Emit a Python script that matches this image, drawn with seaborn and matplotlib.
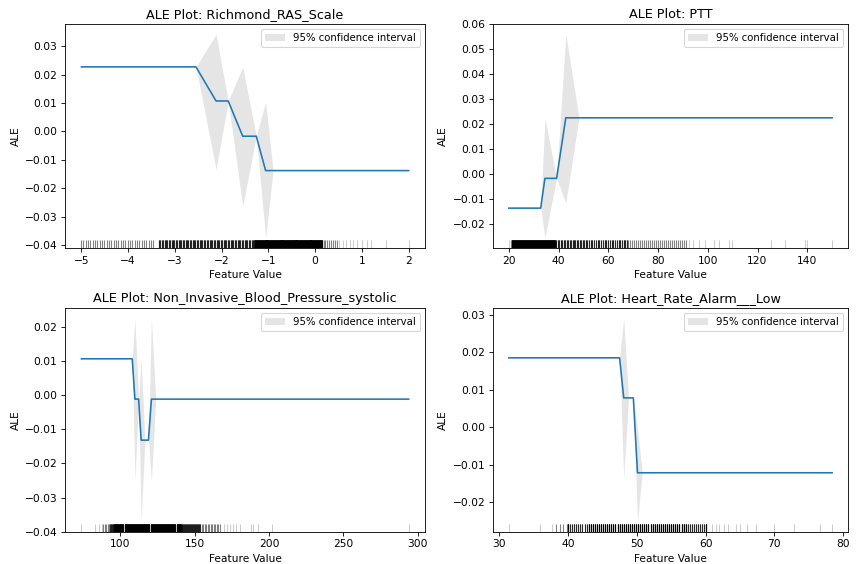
import numpy as np
import pandas as pd
import matplotlib
matplotlib.use("Agg")
import matplotlib.pyplot as plt
import seaborn as sns

# ---------------- data ----------------
features = ["Richmond_RAS_Scale", "PTT",
            "Non_Invasive_Blood_Pressure_systolic", "Heart_Rate_Alarm___Low"]

# Richmond_RAS_Scale
ras_x = [-5.0, -2.55, -2.12, -1.86, -1.55, -1.26, -1.06, -0.90, 2.0]
ras_ale = [0.0227, 0.0227, 0.0107, 0.0107, -0.0017, -0.0017, -0.0138, -0.0138, -0.0138]
ras_upper = [0.0227, 0.0227, 0.0342, 0.0107, 0.0227, -0.0017, 0.0104, -0.0138, -0.0138]
ras_lower = [0.0227, 0.0227, -0.0134, 0.0107, -0.0264, -0.0017, -0.0375, -0.0138, -0.0138]

# PTT
ptt_x = [20.0, 32.8, 34.5, 39.2, 42.9, 48.2, 150.0]
ptt_ale = [-0.0135, -0.0135, -0.0016, -0.0016, 0.0226, 0.0226, 0.0226]
ptt_upper = [-0.0135, -0.0135, 0.0225, -0.0016, 0.0560, 0.0226, 0.0226]
ptt_lower = [-0.0135, -0.0135, -0.0254, -0.0016, -0.0115, 0.0226, 0.0226]

# Non_Invasive_Blood_Pressure_systolic
nbp_x = [73.8, 108.0, 109.8, 112.3, 114.0, 116.5, 118.9, 120.9, 123.8, 294.0]
nbp_ale = [0.0106, 0.0106, -0.0012, -0.0012, -0.0132, -0.0132, -0.0132, -0.0012, -0.0012, -0.0012]
nbp_upper = [0.0106, 0.0106, 0.0222, -0.0012, 0.0106, -0.0132, -0.0132, 0.0225, -0.0012, -0.0012]
nbp_lower = [0.0106, 0.0106, -0.0250, -0.0012, -0.0371, -0.0132, -0.0132, -0.0253, -0.0012, -0.0012]

# Heart_Rate_Alarm___Low
hr_x = [31.4, 47.5, 48.1, 48.8, 49.5, 50.1, 50.8, 78.4]
hr_ale = [0.0185, 0.0185, 0.0078, 0.0078, 0.0078, -0.0122, -0.0122, -0.0122]
hr_upper = [0.0185, 0.0185, 0.0291, 0.0078, 0.0078, -0.0005, -0.0122, -0.0122]
hr_lower = [0.0185, 0.0185, -0.0138, 0.0078, 0.0078, -0.0253, -0.0122, -0.0122]

# rug (observed feature values), grouped by how often each value occurs
rug_repeats = [1, 3, 8, 16]

ras_rug = [
    [0.52, 0.59, 0.66, 0.74, 0.80, 0.90, 1.01, 1.10, 1.19, 1.51, 2.0],
    [-5.00, -4.96, -4.91, -4.86, -4.81, -4.76, -4.71, -4.66, -4.61, -4.56, -4.51, -4.46,
     -4.41, -4.36, -4.31, -4.26, -4.21, -4.16, -4.11, -4.06, -4.01, -3.96, -3.91, -3.86,
     -3.81, -3.76, -3.71, -3.66, -3.61, -3.56, -3.51, -3.46,
     0.18, 0.22, 0.26, 0.30, 0.34, 0.38, 0.42, 0.46],
    [-3.34, -3.31, -3.28, -3.25, -3.22, -3.19, -3.16, -3.13, -3.10, -3.07, -3.04, -3.01,
     -2.98, -2.95, -2.92, -2.89, -2.86, -2.83, -2.80, -2.77, -2.74, -2.71, -2.68, -2.65,
     -2.62, -2.59, -2.56, -2.53, -2.50, -2.47, -2.44, -2.41, -2.38, -2.35, -2.32, -2.29,
     -2.26, -2.23, -2.20, -2.17, -2.14, -2.11, -2.08, -2.05, -2.02, -1.99, -1.96, -1.93,
     -1.90, -1.87, -1.84, -1.81, -1.78, -1.75, -1.72, -1.69, -1.66, -1.63, -1.60, -1.57,
     -1.54, -1.51, -1.48, -1.45, -1.42, -1.39, -1.36, -1.33, -1.30],
    [-1.28, -1.26, -1.24, -1.22, -1.20, -1.18, -1.16, -1.14, -1.12, -1.10, -1.08, -1.06,
     -1.04, -1.02, -1.00, -0.98, -0.96, -0.94, -0.92, -0.90, -0.88, -0.86, -0.84, -0.82,
     -0.80, -0.78, -0.76, -0.74, -0.72, -0.70, -0.68, -0.66, -0.64, -0.62, -0.60, -0.58,
     -0.56, -0.54, -0.52, -0.50, -0.48, -0.46, -0.44, -0.42, -0.40, -0.38, -0.36, -0.34,
     -0.32, -0.30, -0.28, -0.26, -0.24, -0.22, -0.20, -0.18, -0.16, -0.14, -0.12, -0.10,
     -0.08, -0.06, -0.04, -0.02, 0.00, 0.02, 0.04, 0.06, 0.08, 0.10, 0.12, 0.14],
]

ptt_rug = [
    [20.0, 92.5, 94.0, 96.6, 99.0, 102.5, 104.5, 108.4, 109.8, 125.6, 131.0, 138.9,
     140.0, 150.0],
    [20.8, 68.0, 68.8, 69.6, 70.4, 71.2, 72.0, 72.8, 73.6, 74.4, 75.2, 76.0, 76.8, 77.6,
     78.4, 79.2, 80.0, 80.8, 81.6, 82.4, 83.2, 84.0, 84.8, 85.6, 86.4, 87.2, 88.0, 88.8,
     89.6, 90.4, 91.2],
    [39.0, 39.6, 40.2, 40.8, 41.4, 42.0, 42.6, 43.2, 43.8, 44.4, 45.0, 45.6, 46.2, 46.8,
     47.4, 48.0, 48.6, 49.2, 49.8, 50.4, 51.0, 51.6, 52.2, 52.9, 53.6, 54.3, 55.0, 55.7,
     56.4, 57.1, 57.8, 58.5, 59.2, 59.9, 60.6, 61.3, 62.0, 62.7, 63.4, 64.1, 64.8, 65.5,
     66.2, 66.9, 67.6],
    [21.4, 21.8, 22.2, 22.6, 23.0, 23.4, 23.8, 24.2, 24.6, 25.0, 25.4, 25.8, 26.2, 26.6,
     27.0, 27.4, 27.8, 28.2, 28.6, 29.0, 29.4, 29.8, 30.2, 30.6, 31.0, 31.4, 31.8, 32.2,
     32.6, 33.0, 33.4, 33.8, 34.2, 34.6, 35.0, 35.4, 35.8, 36.2, 36.6, 37.0, 37.4, 37.8,
     38.2, 38.6],
]

nbp_rug = [
    [73.8, 82.7, 85.5, 87.5, 169.5, 171.5, 173.5, 175.5, 177.5, 180.5, 188.0, 189.5,
     192.5, 202.0, 294.0],
    [88.5, 89.5, 90.5, 91.5, 92.3, 154.8, 155.8, 156.8, 157.8, 158.8, 159.8, 160.8,
     161.8, 162.8, 163.8, 164.8, 165.8, 166.8],
    [93.0, 93.6, 94.2, 94.8, 95.4, 96.0, 141.3, 142.0, 142.7, 143.4, 144.1, 144.8, 145.5,
     146.2, 146.9, 147.6, 148.3, 149.0, 149.7, 150.4, 151.1, 151.8, 152.5, 153.2, 153.9],
    [96.5, 97.2, 97.9, 98.6, 99.3, 100.0, 100.7, 101.4, 102.1, 102.8, 103.5, 104.2,
     104.9, 105.6, 106.3, 107.0, 107.7, 108.4, 109.1, 109.8, 110.5, 111.2, 111.9, 112.6,
     113.3, 114.0, 114.7, 115.4, 116.1, 116.8, 117.5, 118.2, 118.9, 119.6, 120.3, 121.0,
     121.7, 122.4, 123.1, 123.8, 124.5, 125.2, 125.9, 126.6, 127.3, 128.0, 128.7, 129.4,
     130.1, 130.8, 131.5, 132.2, 132.9, 133.6, 134.3, 135.0, 135.7, 136.4, 137.1, 137.8,
     138.5, 139.2, 139.9, 140.6],
]

hr_rug = [
    [31.4, 36.0, 37.7, 61.0, 61.5, 62.0, 62.7, 63.2, 64.4, 65.0, 66.0, 67.4, 70.0, 72.9,
     76.7, 78.4],
    [38.2, 38.8, 39.3, 39.8],
    [40.3, 40.6, 40.9, 41.2, 41.5, 41.8, 42.1, 42.4, 42.7,
     57.4, 57.7, 58.0, 58.3, 58.6, 58.9, 59.2, 59.5, 59.8],
    [40.0, 43.0, 43.3, 43.6, 43.9, 44.2, 44.5, 44.8, 45.1, 45.4, 45.7, 46.0, 46.3, 46.6,
     46.9, 47.2, 47.5, 47.8, 48.1, 48.4, 48.7, 49.0, 49.3, 49.6, 49.9, 50.2, 50.5, 50.8,
     51.1, 51.4, 51.7, 52.0, 52.3, 52.6, 52.9, 53.2, 53.5, 53.8, 54.1, 54.4, 54.7, 55.0,
     55.3, 55.6, 55.9, 56.2, 56.5, 56.8, 57.1, 60.0],
]

panels = [
    (ras_x, ras_ale, ras_upper, ras_lower, ras_rug),
    (ptt_x, ptt_ale, ptt_upper, ptt_lower, ptt_rug),
    (nbp_x, nbp_ale, nbp_upper, nbp_lower, nbp_rug),
    (hr_x, hr_ale, hr_upper, hr_lower, hr_rug),
]

# ---------------- style ----------------
s = 0.766
plt.rcParams.update({
    "font.size": 10 * s, "axes.titlesize": 12 * s, "axes.labelsize": 10 * s,
    "xtick.labelsize": 10 * s, "ytick.labelsize": 10 * s, "legend.fontsize": 7.3,
    "axes.linewidth": 0.8 * s, "xtick.major.size": 3.5 * s, "ytick.major.size": 3.5 * s,
    "xtick.major.width": 0.8 * s, "ytick.major.width": 0.8 * s,
    "xtick.major.pad": 3.5 * s, "ytick.major.pad": 3.5 * s,
    "axes.titlepad": 6 * s, "axes.labelpad": 4 * s, "patch.linewidth": 1.0 * s,
    "legend.frameon": True,
})

# ---------------- plot ----------------
fig, axes = plt.subplots(2, 2, figsize=(8.58, 5.64), dpi=100,
                         gridspec_kw={"width_ratios": [360, 355.6]})
fig.subplots_adjust(left=0.0758, right=0.9887, bottom=0.0567, top=0.9574,
                    wspace=0.189, hspace=0.267)

for ax, name, (x, ale, up, lo, rug) in zip(axes.flat, features, panels):
    df = pd.DataFrame({"x": x, "ale": ale})
    sns.lineplot(data=df, x="x", y="ale", ax=ax, color="#1f77b4", linewidth=1.5 * s)
    ax.fill_between(x, lo, up, color="grey", alpha=0.2, linewidth=0,
                    label="95% confidence interval")
    ylim = ax.get_ylim()
    rug_vals = np.concatenate([np.repeat(v, n) for v, n in zip(rug, rug_repeats)])
    sns.rugplot(x=rug_vals, ax=ax, color="k", alpha=0.2, height=0.034,
                expand_margins=False, linewidth=1.0 * s)
    ax.set_ylim(ylim)
    ax.set_title(f"ALE Plot: {name}")
    ax.set_xlabel("Feature Value")
    ax.set_ylabel("ALE")
    ax.legend(loc="upper right")

fig.savefig("out.png", dpi=100)
